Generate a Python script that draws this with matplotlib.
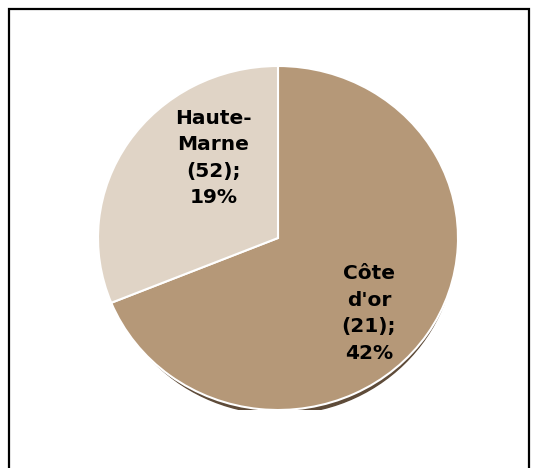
import matplotlib.pyplot as plt
from matplotlib.patches import Ellipse, Rectangle

# data
departements = ["Côte\nd'or", "Haute-\nMarne"]
counts = [21, 52]
shares = [42, 19]
colors = ["#B59878", "#E0D4C6"]

W, H = 542, 468
fig = plt.figure(figsize=(W / 100, H / 100), dpi=100)

# outer frame in pixel coords
bg = fig.add_axes([0, 0, 1, 1])
bg.set_xlim(0, W)
bg.set_ylim(0, H)
bg.axis("off")
bg.add_patch(Rectangle((9, -10), 520, H + 1, fill=False, edgecolor="black",
                       linewidth=1.6))

# pie axes spans the (slightly squashed) pie box
ax = fig.add_axes([98 / W, (H - 410) / H, 360 / W, 344 / H])
ax.set_xlim(-1, 1)
ax.set_ylim(-1, 1)

# drop shadow under the pie (only shows along the lower rim)
ax.add_patch(Ellipse((0.01, -0.024), 1.955, 2, color="#5E4B39", zorder=1))

ax.pie(shares, colors=colors, startangle=90, counterclock=False,
       radius=1, frame=True,
       wedgeprops=dict(edgecolor="white", linewidth=1.5, zorder=2))
ax.set_xlim(-1, 1)
ax.set_ylim(-1, 1)
ax.set_aspect("auto")
ax.axis("off")

# label offsets (fraction of radius)
offsets = [(0.505, -0.44), (-0.36, 0.465)]
for name, n, pct, (dx, dy) in zip(departements, counts, shares, offsets):
    ax.text(dx, dy, f"{name}\n({n});\n{pct}%",
            ha="center", va="center", fontsize=14.5, fontweight="bold",
            family="DejaVu Sans", linespacing=1.5, zorder=3)

fig.savefig("out.png", dpi=100)
